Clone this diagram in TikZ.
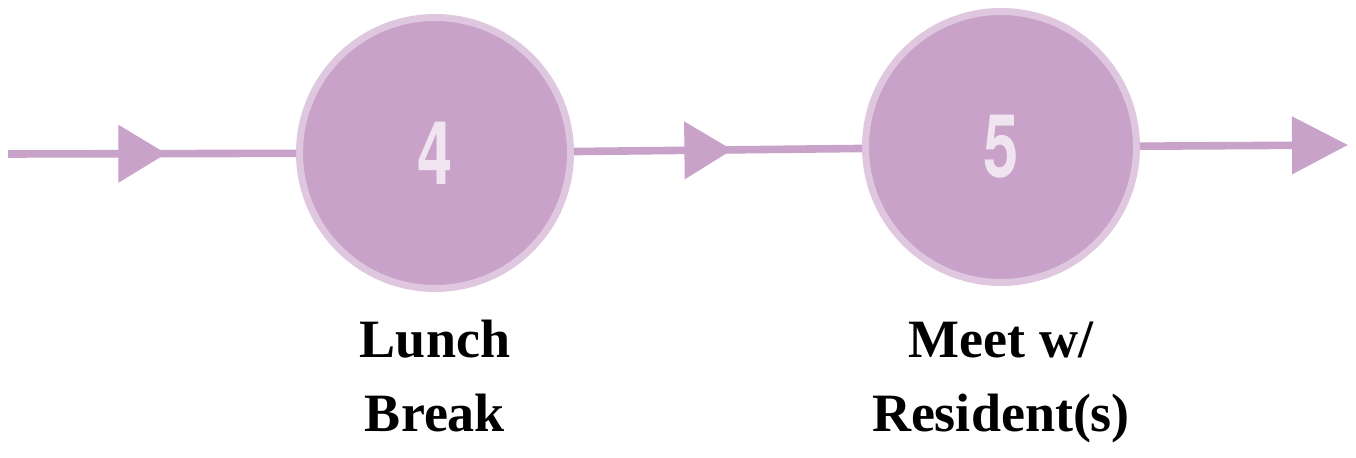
\documentclass[tikz,border=0pt]{standalone}
\usepackage[usenames,dvipsnames]{xcolor}
\usepackage{fontspec}
\setmainfont{Liberation Serif}
\newfontfamily\numfont[FakeStretch=0.72]{TeX Gyre Heros}
\usepackage{tikz}
\usetikzlibrary{positioning,arrows.meta,decorations.markings}

\definecolor{lilac}{HTML}{C8A2C8}
\definecolor{lilacring}{HTML}{DEC7DF}
\definecolor{lilactext}{HTML}{F1E4F1}

\begin{document}
\begin{tikzpicture}[x=0.5pt,y=-0.5pt,node distance=100pt,on grid]
  \tikzstyle{stage}=[circle,fill=lilac,draw=lilacring,line width=3.5pt,
    minimum size=271pt*0.5,inner sep=0pt,text=lilactext,
    font=\numfont\bfseries\fontsize{44}{44}\selectfont]
  \tikzstyle{tag}=[align=center,font=\bfseries\fontsize{27}{37}\selectfont]
  \tikzstyle{flow}=[draw=lilac,line width=3.8pt]
  \tikzstyle{midarrow}=[postaction={decorate},decoration={markings,
    mark=at position 0.55 with {\arrow[lilac]{Triangle[length=24pt,width=28pt]}}}]
  \useasboundingbox (0,0) rectangle (1356,458);
  \coordinate (start) at (8,154);
  \node[stage] (s_4) at (435,153) {4};
  \node[stage] (s_5) [above right=3pt and 283pt of s_4] {5};
  \coordinate (end) at (1348,145);
  \node[tag] (lunch) [below=111.5pt of s_4] {Lunch\\Break};
  \node[tag] (meet) [below=117.5pt of s_5] {Meet w/\\Resident(s)};
  \path[flow,midarrow] (start) -- (s_4);
  \path[flow,midarrow] (s_4) -- (s_5);
  \path[flow,-{Triangle[length=28pt,width=28pt]},fill=lilac] (s_5) -- (end);
\end{tikzpicture}
\end{document}
